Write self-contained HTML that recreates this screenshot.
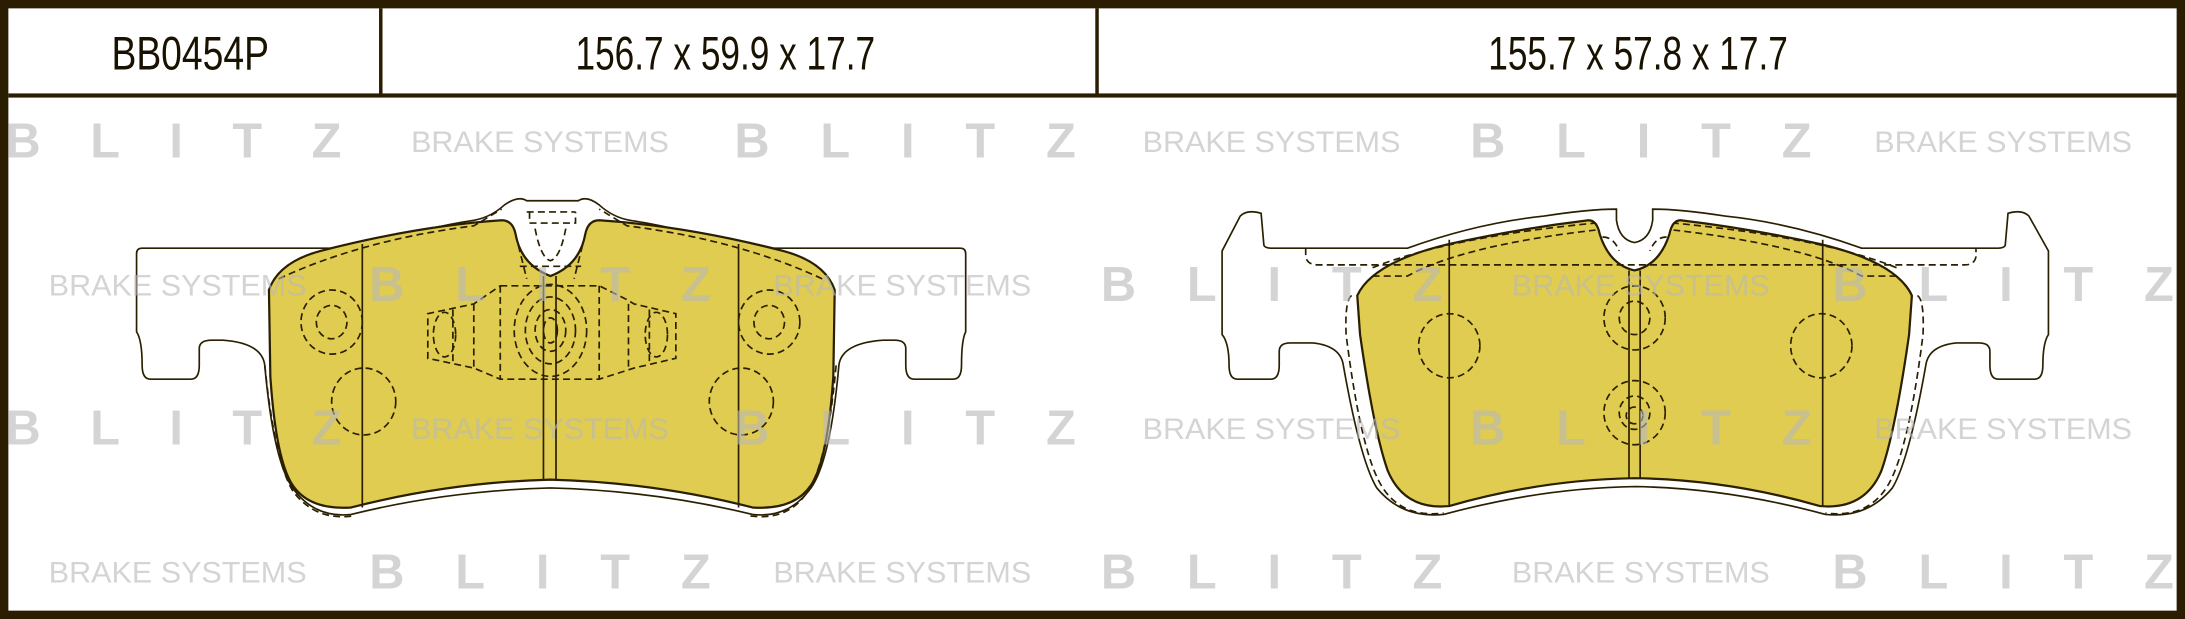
<!DOCTYPE html>
<html><head><meta charset="utf-8"><style>
html,body{margin:0;padding:0;background:#fff;}
svg{display:block;}
</style></head><body>
<svg width="2185" height="619" viewBox="0 0 1568 444" preserveAspectRatio="none" xmlns="http://www.w3.org/2000/svg">
<rect x="0" y="0" width="1568" height="444" fill="#2b1d00"/>
<rect x="6" y="6" width="1556" height="432" fill="#fff"/>
<rect x="6" y="67" width="1556" height="3" fill="#2b1d00"/>
<rect x="272" y="6" width="2.5" height="62" fill="#2b1d00"/>
<rect x="786" y="6" width="2.5" height="62" fill="#2b1d00"/>
<g font-family="Liberation Sans, sans-serif" font-size="34" fill="#1a1200">
<text x="80" y="50" textLength="113" lengthAdjust="spacingAndGlyphs">BB0454P</text>
<text x="413" y="50" textLength="215" lengthAdjust="spacingAndGlyphs">156.7 x 59.9 x 17.7</text>
<text x="1068" y="50" textLength="215" lengthAdjust="spacingAndGlyphs">155.7 x 57.8 x 17.7</text>
</g>

<!-- LEFT PAD -->
<g stroke="#2a1f00" stroke-width="1.2" fill="none">
<path fill="#fff" d="M98 182 Q98 178 102 178 L262 178 Q300 164 340 158 Q352 156 362 147 Q372 140 378 144 L415 144 Q421 140 430 147 Q440 156 452 158 Q492 164 530 178 L689 178 Q693 178 693 182 L693 238 Q690 244 690 262 Q690 272 684 272 L656 272 Q650 272 650 262 L650 250 Q650 244 642 244 L634 244 Q604 246 602 262 Q596 330 582 350 Q566 372 540 369 Q470 352 395 350 Q320 352 252 369 Q226 372 210 350 Q196 330 190 262 Q188 246 160 244 L152 244 Q143 244 143 250 L143 262 Q143 272 137 272 L108 272 Q102 272 102 262 Q102 244 98 238 Z"/>
<path fill="#e0cc50" stroke-width="1.6" d="M193 208 Q200 188 230 180 Q300 162 360 158 Q368 158 370 168 Q374 190 395 198 Q416 190 420 168 Q422 158 430 158 Q492 162 562 180 Q592 188 599 208 L598 270 Q594 330 582 348 Q570 366 540 364 Q470 346 395 344 Q322 346 252 364 Q222 366 210 348 Q198 330 194 270 Z"/>
<path d="M260 175 L260 364 M530 175 L530 364 M390 198 L390 344 M399 198 L399 344"/>
<g stroke-dasharray="5 3">
<ellipse cx="238" cy="231" rx="22" ry="23"/><ellipse cx="238" cy="231" rx="11" ry="12"/>
<ellipse cx="552" cy="231" rx="22" ry="23"/><ellipse cx="552" cy="231" rx="11" ry="12"/>
<ellipse cx="261" cy="288" rx="23" ry="24"/><ellipse cx="532" cy="288" rx="23" ry="24"/>
<ellipse cx="395" cy="237" rx="26" ry="33"/><ellipse cx="395" cy="237" rx="18" ry="24"/>
<ellipse cx="395" cy="237" rx="11" ry="15"/><ellipse cx="395" cy="237" rx="5" ry="9"/>
<ellipse cx="319" cy="240" rx="8" ry="16"/><ellipse cx="471" cy="240" rx="8" ry="16"/>
<path d="M359 205 L430 205 L450 215 L455 218 L485 225 L485 257 L455 264 L430 272 L359 272 L340 264 L307 257 L307 225 L340 218 Z"/>
<path d="M359 205 L359 272 M430 205 L430 272 M325 222 L325 260 M340 218 L340 264 M451 218 L451 264 M466 222 L466 260"/>
<path d="M372 176 L378 200 M418 176 L412 200 M373 191 L417 191"/>
<path d="M378 152 L413 152 M380 152 L380 160 L413 160 L413 152 M384 164 Q388 185 395 187 Q402 185 406 164"/>
<path d="M200 200 Q260 172 340 162 L360 150 M590 200 Q530 172 450 162 L430 150"/>
<path d="M190 262 Q197 330 210 352 Q226 374 254 370 M600 262 Q594 330 580 352 Q566 374 538 370"/>
</g>
</g>

<!-- RIGHT PAD -->
<g stroke="#2a1f00" stroke-width="1.2" fill="none">
<path fill="#fff" d="M877 180 L890 155 Q895 150 905 153 L907 176 Q908 178 912 178 L1010 178 Q1060 160 1108 155 Q1140 150 1160 150 L1160 158 Q1162 172 1173 174 Q1184 172 1186 158 L1186 150 Q1206 150 1238 155 Q1286 160 1336 178 L1434 178 Q1438 178 1439 176 L1441 153 Q1451 150 1456 155 L1470 180 L1470 240 Q1466 246 1466 262 Q1466 272 1460 272 L1434 272 Q1428 272 1428 262 L1428 252 Q1428 246 1420 246 L1404 246 Q1384 248 1382 262 Q1370 330 1358 350 Q1340 372 1310 369 Q1240 350 1173 349 Q1106 350 1036 369 Q1006 372 988 350 Q976 330 964 262 Q962 248 942 246 L926 246 Q918 246 918 252 L918 262 Q918 272 912 272 L888 272 Q882 272 882 262 Q882 246 877 240 Z"/>
<path fill="#e0cc50" stroke-width="1.6" d="M974 212 Q985 188 1040 175 Q1090 164 1140 158 Q1146 158 1148 168 Q1155 190 1173 194 Q1191 190 1198 168 Q1200 158 1206 158 Q1256 164 1306 175 Q1361 188 1372 212 L1370 240 Q1360 310 1350 338 Q1338 366 1306 363 Q1240 344 1173 343 Q1106 344 1040 363 Q1008 366 996 338 Q986 310 976 240 Z"/>
<path d="M1040 172 L1040 363 M1308 172 L1308 363 M1169 194 L1169 343 M1177 194 L1177 343"/>
<g stroke-dasharray="5 3">
<ellipse cx="1040" cy="248" rx="22" ry="23"/><ellipse cx="1307" cy="248" rx="22" ry="23"/>
<ellipse cx="1173" cy="228" rx="22" ry="23"/><ellipse cx="1173" cy="228" rx="11" ry="12"/>
<ellipse cx="1173" cy="296" rx="22" ry="23"/><ellipse cx="1173" cy="296" rx="11" ry="12"/><circle cx="1173" cy="298" r="6"/>
<path d="M937 178 L937 184 Q938 190 946 190 L1410 190 Q1417 190 1418 184 L1418 178"/>
<path d="M985 198 L1010 198 Q1050 176 1145 165 M1361 198 L1336 198 Q1296 176 1201 165"/>
<path d="M985 192 Q1040 170 1145 160 M1361 192 Q1306 170 1201 160"/>
<path d="M1150 170 Q1158 170 1162 180 M1196 170 Q1188 170 1184 180"/>
<path d="M970 212 Q965 215 966 240 Q976 320 990 346 Q1004 372 1036 368 M1376 212 Q1381 215 1380 240 Q1370 320 1356 346 Q1342 372 1310 368"/>
</g>
</g>

<!-- watermarks -->
<g fill="#b8b8b8" fill-opacity="0.6" font-family="Liberation Sans, sans-serif">
<g font-size="35" font-weight="bold">
<text x="4" y="113" textLength="241" lengthAdjust="spacing">BLITZ</text>
<text x="527" y="113" textLength="245" lengthAdjust="spacing">BLITZ</text>
<text x="1055" y="113" textLength="245" lengthAdjust="spacing">BLITZ</text>
<text x="265" y="216" textLength="245" lengthAdjust="spacing">BLITZ</text>
<text x="790" y="216" textLength="245" lengthAdjust="spacing">BLITZ</text>
<text x="1315" y="216" textLength="245" lengthAdjust="spacing">BLITZ</text>
<text x="4" y="319" textLength="241" lengthAdjust="spacing">BLITZ</text>
<text x="527" y="319" textLength="245" lengthAdjust="spacing">BLITZ</text>
<text x="1055" y="319" textLength="245" lengthAdjust="spacing">BLITZ</text>
<text x="265" y="422" textLength="245" lengthAdjust="spacing">BLITZ</text>
<text x="790" y="422" textLength="245" lengthAdjust="spacing">BLITZ</text>
<text x="1315" y="422" textLength="245" lengthAdjust="spacing">BLITZ</text>
</g>
<g font-size="21">
<text x="295" y="109" textLength="185" lengthAdjust="spacingAndGlyphs">BRAKE SYSTEMS</text>
<text x="820" y="109" textLength="185" lengthAdjust="spacingAndGlyphs">BRAKE SYSTEMS</text>
<text x="1345" y="109" textLength="185" lengthAdjust="spacingAndGlyphs">BRAKE SYSTEMS</text>
<text x="35" y="212" textLength="185" lengthAdjust="spacingAndGlyphs">BRAKE SYSTEMS</text>
<text x="555" y="212" textLength="185" lengthAdjust="spacingAndGlyphs">BRAKE SYSTEMS</text>
<text x="1085" y="212" textLength="185" lengthAdjust="spacingAndGlyphs">BRAKE SYSTEMS</text>
<text x="295" y="315" textLength="185" lengthAdjust="spacingAndGlyphs">BRAKE SYSTEMS</text>
<text x="820" y="315" textLength="185" lengthAdjust="spacingAndGlyphs">BRAKE SYSTEMS</text>
<text x="1345" y="315" textLength="185" lengthAdjust="spacingAndGlyphs">BRAKE SYSTEMS</text>
<text x="35" y="418" textLength="185" lengthAdjust="spacingAndGlyphs">BRAKE SYSTEMS</text>
<text x="555" y="418" textLength="185" lengthAdjust="spacingAndGlyphs">BRAKE SYSTEMS</text>
<text x="1085" y="418" textLength="185" lengthAdjust="spacingAndGlyphs">BRAKE SYSTEMS</text>
</g>
</g>
</svg>
</body></html>
